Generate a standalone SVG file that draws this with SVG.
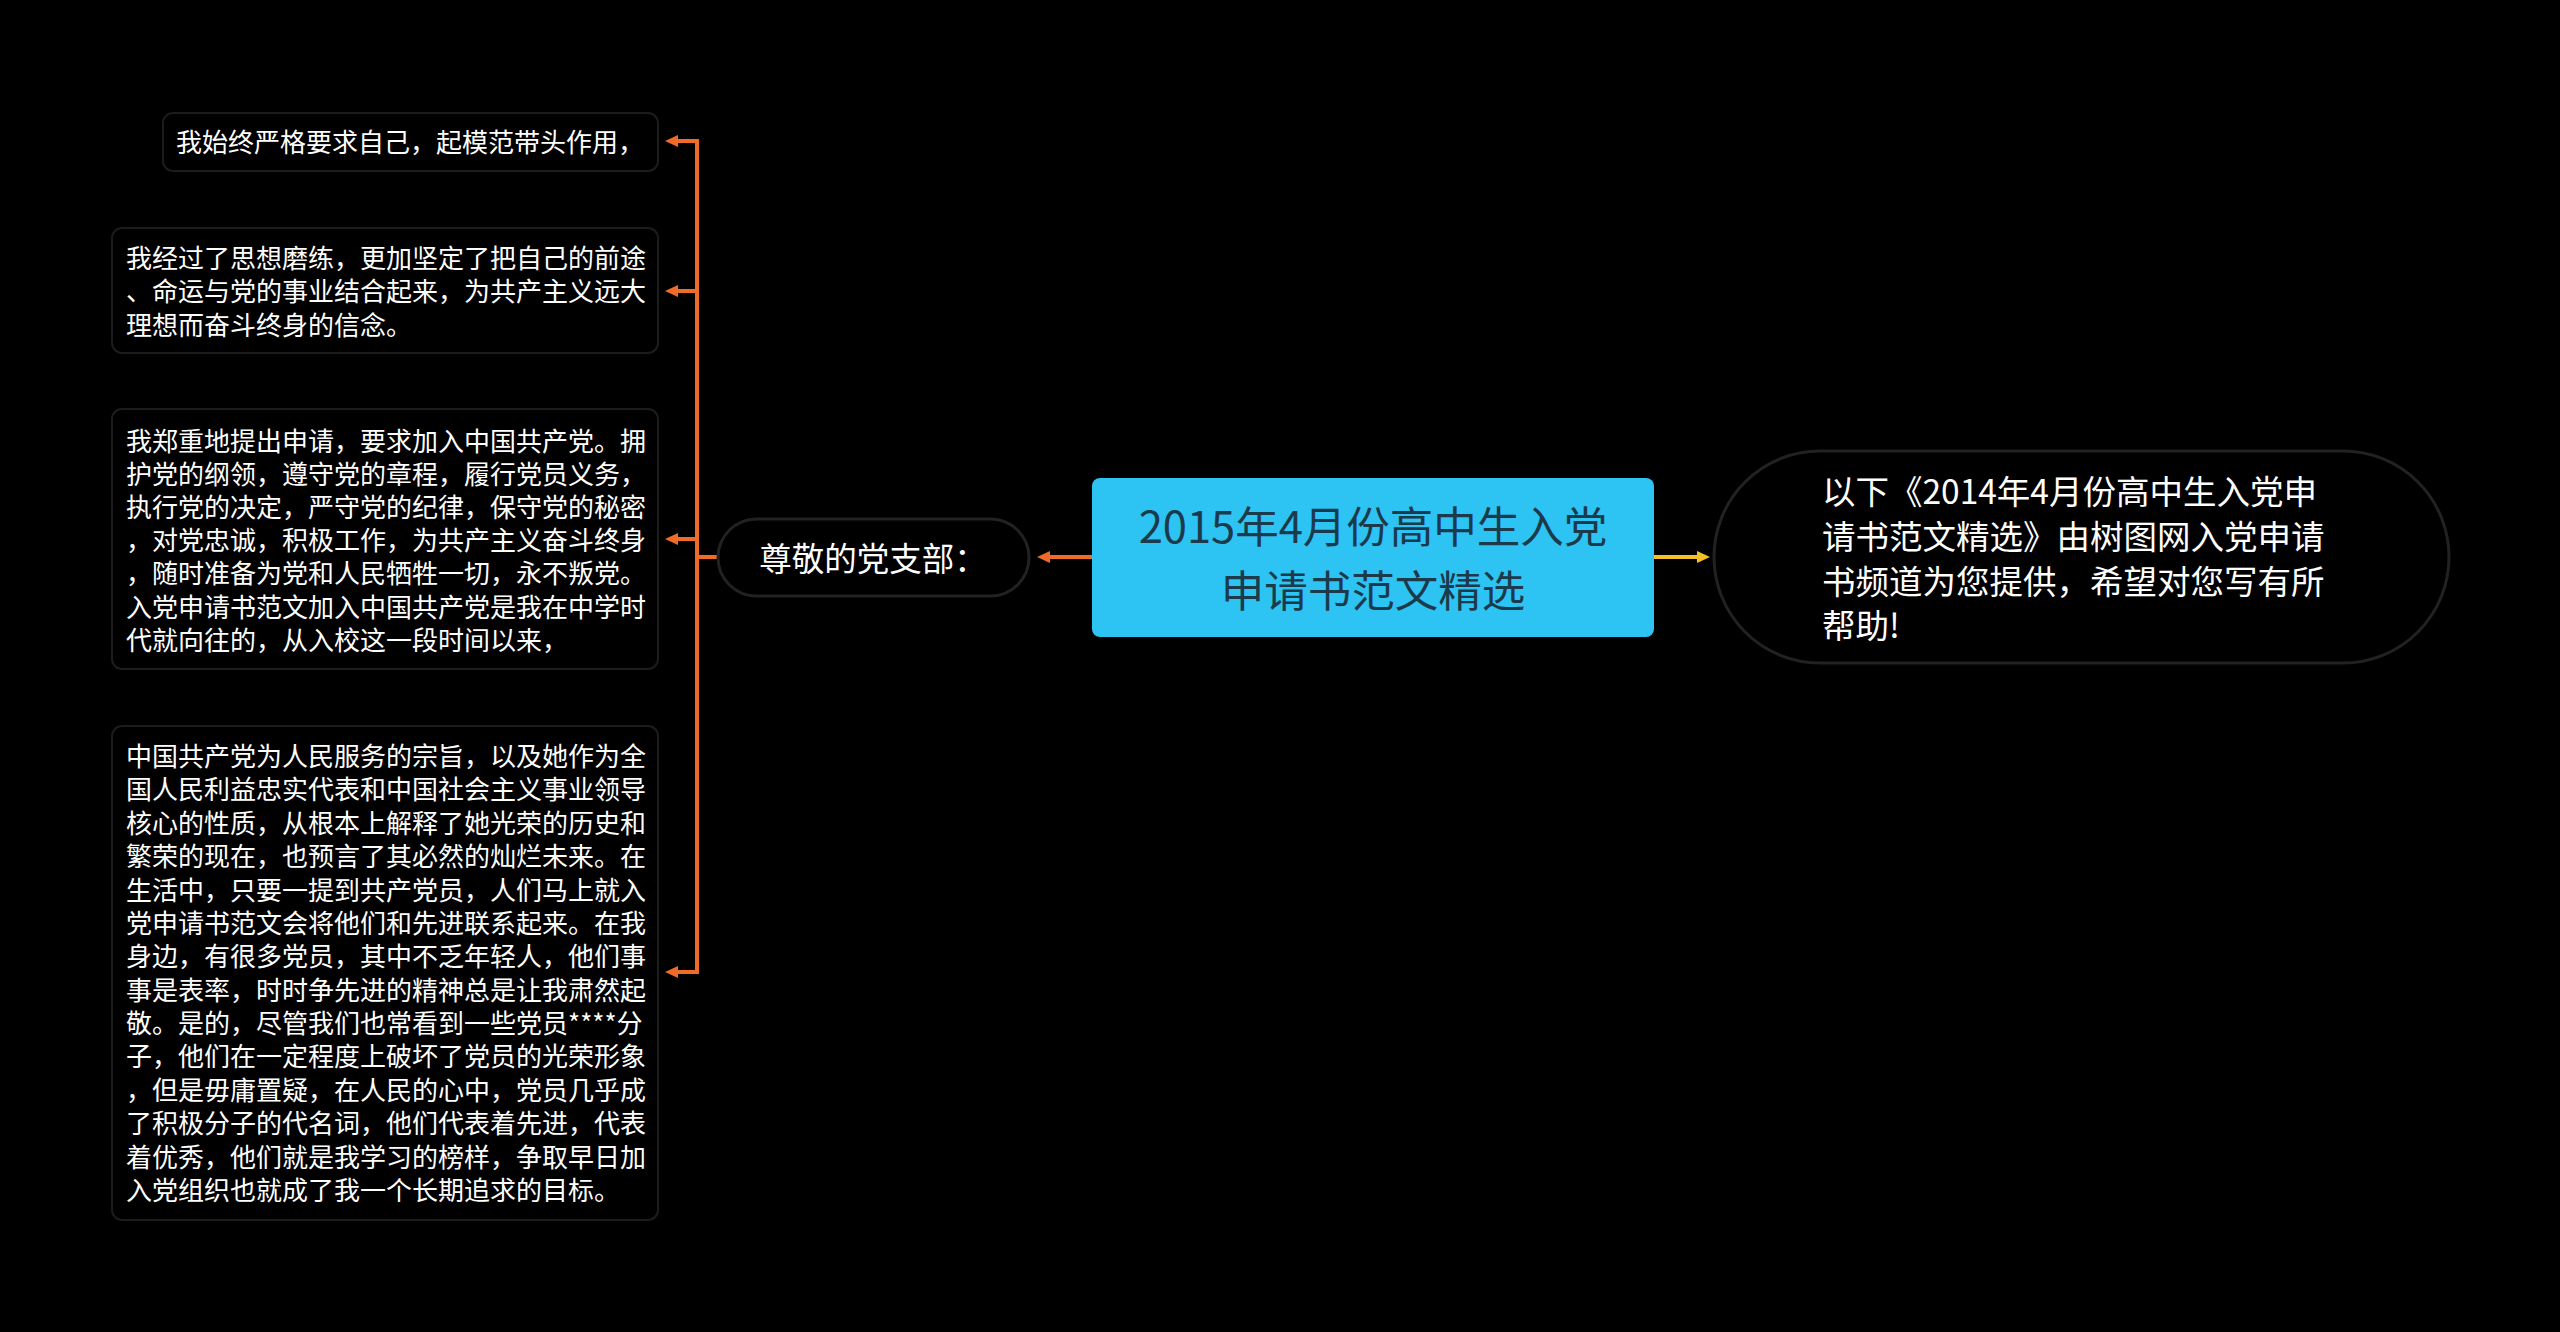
<svg xmlns="http://www.w3.org/2000/svg" width="2560" height="1332" viewBox="0 0 2560 1332">
<defs>
<style>
text{font-family:"Noto Sans CJK SC","Noto Sans",sans-serif;dominant-baseline:central}
.leaf rect{fill:#000;stroke:#1c1c1c;stroke-width:2}
.leaf text{fill:#fff;font-size:26px}
.pill{fill:#000;stroke:#222;stroke-width:3}
.edge{fill:none;stroke:#F06A28;stroke-width:4;stroke-linejoin:miter}
.edgey{fill:none;stroke:#F5BF2A;stroke-width:4}
</style>
<marker id="ao" markerUnits="userSpaceOnUse" markerWidth="14" markerHeight="12" refX="0" refY="6" orient="auto"><path d="M0,0 L13,6 L0,12 Z" fill="#F06A28"/></marker>
<marker id="ay" markerUnits="userSpaceOnUse" markerWidth="14" markerHeight="12" refX="0" refY="6" orient="auto"><path d="M0,0 L13,6 L0,12 Z" fill="#F5BF2A"/></marker>
</defs>
<rect width="2560" height="1332" fill="#000"/>
<g id="connectors">
<path class="edge" d="M1092,557 H1050" marker-end="url(#ao)"/>
<path class="edgey" d="M1654,557 H1697" marker-end="url(#ay)"/>
<path class="edge" d="M718,557 H697 V141 H678" marker-end="url(#ao)"/>
<path class="edge" d="M718,557 H697 V291 H678" marker-end="url(#ao)"/>
<path class="edge" d="M718,557 H697 V539 H678" marker-end="url(#ao)"/>
<path class="edge" d="M718,557 H697 V972 H678" marker-end="url(#ao)"/>
</g>
<g id="root">
<rect x="1092" y="478" width="562" height="159" rx="8" fill="#2DC3F3"/>
<text x="1373" y="524" text-anchor="middle" font-size="43.5" fill="#1B3A4B">2015年4月份高中生入党</text>
<text x="1373" y="588" text-anchor="middle" font-size="43.5" fill="#1B3A4B">申请书范文精选</text>
</g>
<g id="branch">
<rect class="pill" x="718" y="519" width="311" height="77" rx="38.5"/>
<text x="873" y="556" text-anchor="middle" font-size="32.5" fill="#fff">尊敬的党支部：</text>
</g>
<g id="summary">
<rect class="pill" x="1714" y="451" width="735" height="212" rx="106"/>
<text x="1822" y="489" font-size="33.5" fill="#fff">以下《2014年4月份高中生入党申</text>
<text x="1822" y="534" font-size="33.5" fill="#fff">请书范文精选》由树图网入党申请</text>
<text x="1822" y="579" font-size="33.5" fill="#fff">书频道为您提供，希望对您写有所</text>
<text x="1822" y="623" font-size="33.5" fill="#fff">帮助!</text>
</g>
<g id="leaf1" class="leaf">
<rect x="163" y="113" width="495" height="58" rx="10"/>
<text x="176" y="140">我始终严格要求自己，起模范带头作用，</text>
</g>
<g id="leaf2" class="leaf">
<rect x="112" y="228" width="546" height="125" rx="10"/>
<text x="126" y="256">我经过了思想磨练，更加坚定了把自己的前途</text>
<text x="126" y="289">、命运与党的事业结合起来，为共产主义远大</text>
<text x="126" y="323">理想而奋斗终身的信念。</text>
</g>
<g id="leaf3" class="leaf">
<rect x="112" y="409" width="546" height="260" rx="10"/>
<text x="126" y="439">我郑重地提出申请，要求加入中国共产党。拥</text>
<text x="126" y="472">护党的纲领，遵守党的章程，履行党员义务，</text>
<text x="126" y="505">执行党的决定，严守党的纪律，保守党的秘密</text>
<text x="126" y="538">，对党忠诚，积极工作，为共产主义奋斗终身</text>
<text x="126" y="571">，随时准备为党和人民牺牲一切，永不叛党。</text>
<text x="126" y="605">入党申请书范文加入中国共产党是我在中学时</text>
<text x="126" y="638">代就向往的，从入校这一段时间以来，</text>
</g>
<g id="leaf4" class="leaf">
<rect x="112" y="726" width="546" height="494" rx="10"/>
<text x="126" y="754">中国共产党为人民服务的宗旨，以及她作为全</text>
<text x="126" y="787">国人民利益忠实代表和中国社会主义事业领导</text>
<text x="126" y="821">核心的性质，从根本上解释了她光荣的历史和</text>
<text x="126" y="854">繁荣的现在，也预言了其必然的灿烂未来。在</text>
<text x="126" y="888">生活中，只要一提到共产党员，人们马上就入</text>
<text x="126" y="921">党申请书范文会将他们和先进联系起来。在我</text>
<text x="126" y="954">身边，有很多党员，其中不乏年轻人，他们事</text>
<text x="126" y="988">事是表率，时时争先进的精神总是让我肃然起</text>
<text x="126" y="1021">敬。是的，尽管我们也常看到一些党员****分</text>
<text x="126" y="1054">子，他们在一定程度上破坏了党员的光荣形象</text>
<text x="126" y="1088">，但是毋庸置疑，在人民的心中，党员几乎成</text>
<text x="126" y="1121">了积极分子的代名词，他们代表着先进，代表</text>
<text x="126" y="1155">着优秀，他们就是我学习的榜样，争取早日加</text>
<text x="126" y="1188">入党组织也就成了我一个长期追求的目标。</text>
</g>
</svg>
